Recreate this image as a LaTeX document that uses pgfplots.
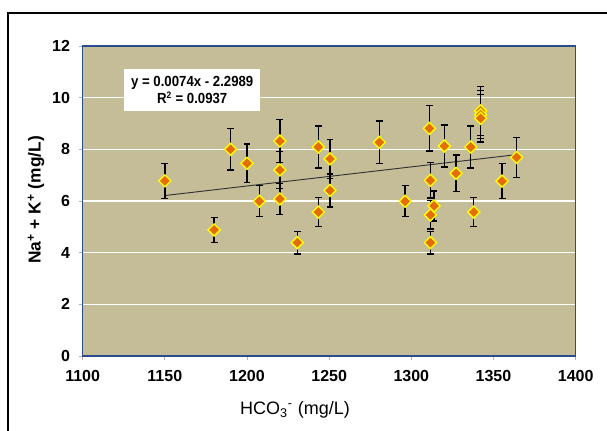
\documentclass[border=0pt]{standalone}
\usepackage{pgfplots}
\usepackage{pgfplotstable}
\usepackage{graphicx}
\pgfplotsset{compat=1.18}
\usepackage{fontspec}
\setmainfont{Liberation Sans}

\definecolor{plotbg}{HTML}{C4BD97}
\definecolor{mfill}{HTML}{E46C0A}
\definecolor{medge}{HTML}{FFFF00}
\definecolor{axblue}{HTML}{2B4C8C}

% HCO3 (mg/L), Na+K (mg/L), error (10 %)
\pgfplotstableread{
x       y     ey
1150.0  6.78  0.68
1180.0  4.88  0.49
1190.0  8.00  0.80
1200.0  7.46  0.75
1207.5  5.99  0.60
1220.0  8.32  0.83
1220.0  7.20  0.72
1220.0  6.08  0.61
1230.6  4.39  0.44
1243.4  8.09  0.81
1243.4  5.57  0.56
1250.5  7.63  0.76
1250.5  6.41  0.64
1280.5  8.27  0.83
1296.2  5.99  0.60
1311.0  8.81  0.88
1311.6  6.80  0.68
1313.8  5.81  0.58
1311.6  5.46  0.55
1311.6  4.39  0.44
1320.1  8.13  0.81
1327.2  7.07  0.71
1336.2  8.09  0.81
1338.0  5.57  0.56
1342.2  9.49  0.95
1342.2  9.34  0.93
1342.2  9.20  0.92
1355.2  6.77  0.68
1364.1  7.69  0.77
}\datatable

\begin{document}
\begin{tikzpicture}[x=0.75pt,y=0.75pt]
\useasboundingbox (0,0) rectangle (607,430);
\fill[white] (0,0) rectangle (607,430);
\draw[black, line width=1.5pt] (8,-5) -- (8,417.3) -- (615,417.3);

\begin{axis}[
  at={(62.0pt,55.5pt)}, anchor=south west,
  scale only axis, width=369.75pt, height=232.5pt,
  xmin=1100, xmax=1400, ymin=0, ymax=12,
  xtick={1100,1150,...,1400}, ytick={0,2,...,12},
  xtick pos=bottom, ytick pos=left,
  axis background/.style={fill=plotbg},
  axis line style={axblue, line width=1pt},
  ymajorgrids, grid style={white, line width=1pt},
  tick align=outside, major tick length=3pt,
  tick style={gray!60, line width=0.6pt},
  tick label style={font=\fontsize{12}{14}\selectfont\bfseries},
  xticklabel style={yshift=-4pt},
  yticklabel style={xshift=-3pt},
  /pgf/number format/assume math mode=true,
  /pgf/number format/set thousands separator={},
  clip=false,
]
% linear fit y = 0.0074x - 2.2989
\addplot[black!80, line width=0.7pt] coordinates {(1150,6.2111) (1364.1,7.7954)};
\addplot[
  only marks, mark=square*, mark size=3.2pt,
  mark options={rotate=45, fill=mfill, draw=medge, line width=1pt},
  error bars/.cd, y dir=both, y explicit,
  error bar style={black, line width=1pt},
  error mark options={rotate=90, mark size=2.6pt, line width=1pt, black},
] table[x=x, y=y, y error=ey] {\datatable};
\end{axis}

\node[fill=white, minimum width=101.8pt, minimum height=31pt, inner sep=0pt,
      align=center, font=\fontsize{11}{12.5}\selectfont\bfseries]
  at (192.2,340) {\scalebox{0.9}[1]{y = 0.0074x - 2.2989}\\\scalebox{0.9}[1]{R\textsuperscript{\scriptsize 2} = 0.0937}};

\node[font=\fontsize{13.5}{15}\selectfont] at (295,20)
  {HCO\textsubscript{3}\textsuperscript{-} (mg/L)};
\node[font=\fontsize{13}{15}\selectfont\bfseries, rotate=90] at (36,230)
  {Na\textsuperscript{+} + K\textsuperscript{+} (mg/L)};
\end{tikzpicture}
\end{document}
